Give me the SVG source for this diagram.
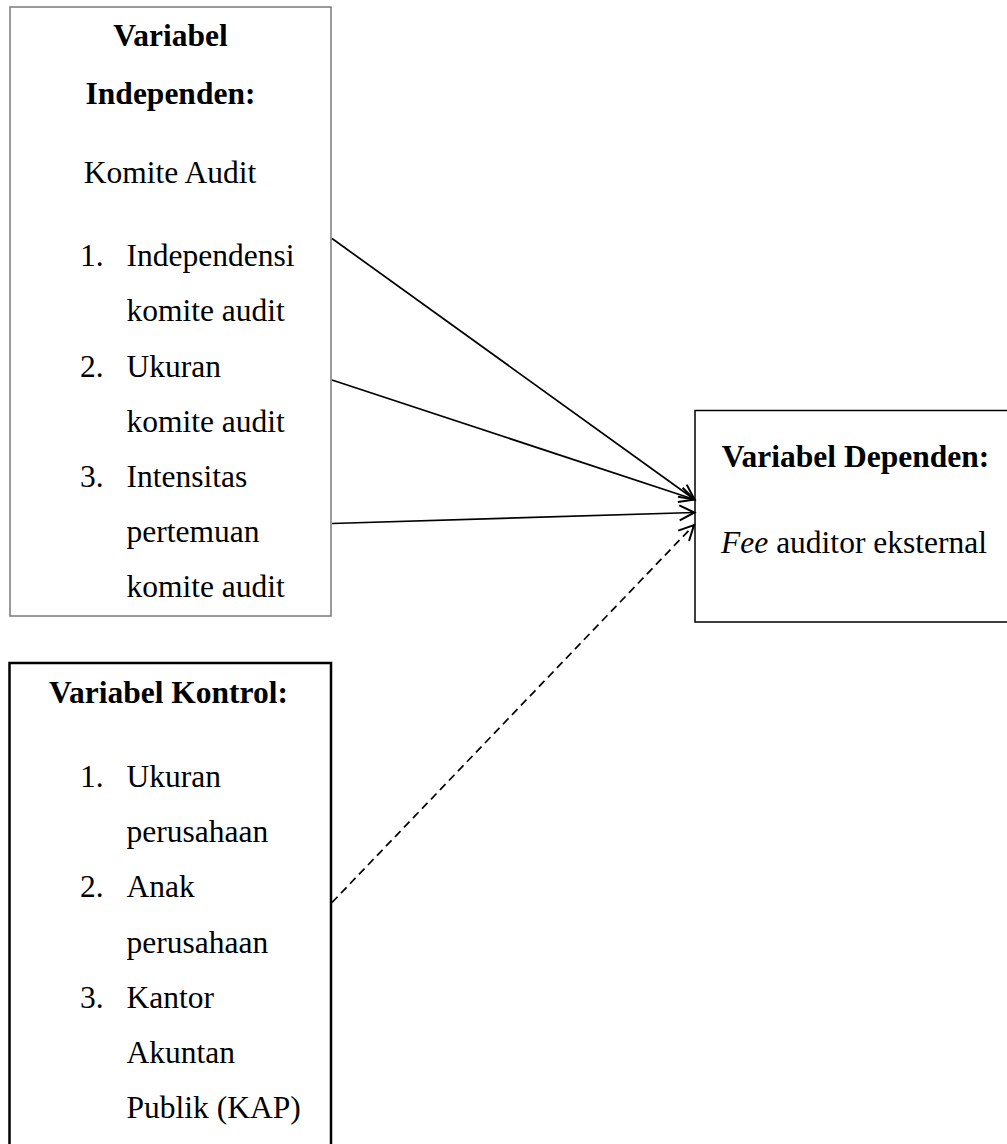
<svg xmlns="http://www.w3.org/2000/svg" width="1007" height="1144" viewBox="0 0 1007 1144">
<style>
text{font-family:"Liberation Serif","Times New Roman",serif;font-size:31.5px;fill:#000}
.b{font-weight:bold}
.c{text-anchor:middle}
.box{fill:#fff}
.conn{stroke:#000;stroke-width:1.7;fill:none}
.dash{stroke-dasharray:8 5}
</style>
<defs>
<marker id="arr" markerUnits="userSpaceOnUse" markerWidth="22" markerHeight="22" viewBox="-18 -11 20 22" refX="0" refY="0" orient="auto">
<path d="M-15,-7.5 L0,0 L-15,7.5" fill="none" stroke="#000" stroke-width="2"/>
</marker>
</defs>
<rect width="1007" height="1144" fill="#fff"/>
<g id="node-independen">
<rect class="box" x="10" y="7" width="321" height="609" stroke="#7a7a7a" stroke-width="1.5"/>
<text class="b c" x="170.5" y="46">Variabel</text>
<text class="b c" x="170.5" y="104">Independen:</text>
<text class="c" x="170" y="183">Komite Audit</text>
<text x="80" y="266">1.</text><text x="126.5" y="266">Independensi</text>
<text x="126.5" y="321">komite audit</text>
<text x="80" y="376.5">2.</text><text x="126.5" y="376.5">Ukuran</text>
<text x="126.5" y="431.5">komite audit</text>
<text x="80" y="487">3.</text><text x="126.5" y="487">Intensitas</text>
<text x="126.5" y="542">pertemuan</text>
<text x="126.5" y="597">komite audit</text>
</g>
<g id="node-kontrol">
<rect class="box" x="9.5" y="663" width="321.5" height="500" stroke="#000" stroke-width="2.5"/>
<text class="b c" x="168.5" y="703">Variabel Kontrol:</text>
<text x="80" y="787">1.</text><text x="126.5" y="787">Ukuran</text>
<text x="126.5" y="842">perusahaan</text>
<text x="80" y="897">2.</text><text x="126.5" y="897">Anak</text>
<text x="126.5" y="952.5">perusahaan</text>
<text x="80" y="1007.5">3.</text><text x="126.5" y="1007.5">Kantor</text>
<text x="126.5" y="1062.5">Akuntan</text>
<text x="126.5" y="1117.5">Publik (KAP)</text>
</g>
<g id="node-dependen">
<rect class="box" x="695" y="410.5" width="330" height="211.5" stroke="#000" stroke-width="1.5"/>
<text class="b c" x="855.5" y="467">Variabel Dependen:</text>
<text class="c" x="854" y="553"><tspan font-style="italic">Fee</tspan> auditor eksternal</text>
</g>
<g id="connectors">
<line class="conn" x1="332" y1="238.5" x2="694.5" y2="499.5" marker-end="url(#arr)"/>
<line class="conn" x1="332" y1="380" x2="694.5" y2="499.5" marker-end="url(#arr)"/>
<line class="conn" x1="332" y1="523.5" x2="694.5" y2="512.5" marker-end="url(#arr)"/>
<line class="conn dash" x1="332" y1="902.5" x2="694" y2="525" marker-end="url(#arr)"/>
</g>
</svg>
